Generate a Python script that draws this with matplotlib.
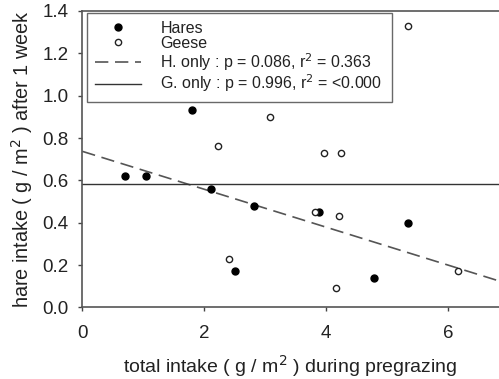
import matplotlib.pyplot as plt

plt.rcParams['font.family'] = ['Liberation Sans', 'DejaVu Sans']

# hares (filled) and geese (open) points
hares_x = [0.70, 1.04, 1.80, 2.11, 2.50, 2.81, 3.89, 4.78, 5.34]
hares_y = [0.62, 0.62, 0.93, 0.56, 0.17, 0.48, 0.45, 0.14, 0.40]
geese_x = [2.22, 2.40, 3.08, 3.82, 3.96, 4.16, 4.22, 4.24, 5.35, 6.17]
geese_y = [0.76, 0.23, 0.90, 0.45, 0.73, 0.09, 0.43, 0.73, 1.33, 0.17]

# regression lines
h_intercept, h_slope = 0.737, -0.0895
g_level = 0.581
x_max = 6.84

labels = ['Hares', 'Geese',
          'H. only : p = 0.086, r$^2$ = 0.363',
          'G. only : p = 0.996, r$^2$ = <0.000']

fig = plt.figure(figsize=(4.99, 3.79), dpi=100)
ax = fig.add_axes([0.165, 0.189, 0.835, 0.782])

ax.plot(hares_x, hares_y, 'o', color='black', markersize=5, label=labels[0], zorder=3)
ax.plot(geese_x, geese_y, 'o', mfc='white', mec='#222222', mew=1.0, markersize=4.5,
        label=labels[1], zorder=3)
ax.plot([0, x_max], [h_intercept, h_intercept + h_slope * x_max], color='#555555',
        lw=1.2, dashes=(8, 4), label=labels[2])
ax.plot([0, x_max], [g_level, g_level], color='#333333', lw=1.0, label=labels[3])

ax.set_xlim(0, x_max)
ax.set_ylim(0, 1.4)
ax.set_xticks([0, 2, 4, 6])
ax.set_yticks([0.0, 0.2, 0.4, 0.6, 0.8, 1.0, 1.2, 1.4])
ax.set_yticklabels(['0.0', '0.2', '0.4', '0.6', '0.8', '1.0', '1.2', '1.4'])
ax.tick_params(direction='out', length=3, width=1, colors='#444444',
               labelcolor='#222222', labelsize=13.5)
ax.tick_params(axis='x', pad=10)
ax.tick_params(axis='y', pad=7)

for s in ['left', 'bottom', 'top']:
    ax.spines[s].set_color('#555555')
    ax.spines[s].set_linewidth(1.2)
ax.spines['right'].set_visible(False)

ax.set_xlabel('total intake ( g / m$^2$ ) during pregrazing', fontsize=14,
              color='#222222', labelpad=8)
ax.set_ylabel('hare intake ( g / m$^2$ ) after 1 week', fontsize=14.3,
              color='#222222', labelpad=5)

leg = ax.legend(loc='upper left', bbox_to_anchor=(0.011, 0.993, 0.732, 0.0),
                mode='expand', fontsize=11.5,
                frameon=True, fancybox=False, edgecolor='#444444',
                handlelength=2.9, handletextpad=1.2, borderpad=0.5,
                labelspacing=0.0, borderaxespad=0)
leg.get_frame().set_linewidth(1.0)
for t in leg.get_texts():
    t.set_color('#222222')

plt.savefig('out.png', dpi=100)
